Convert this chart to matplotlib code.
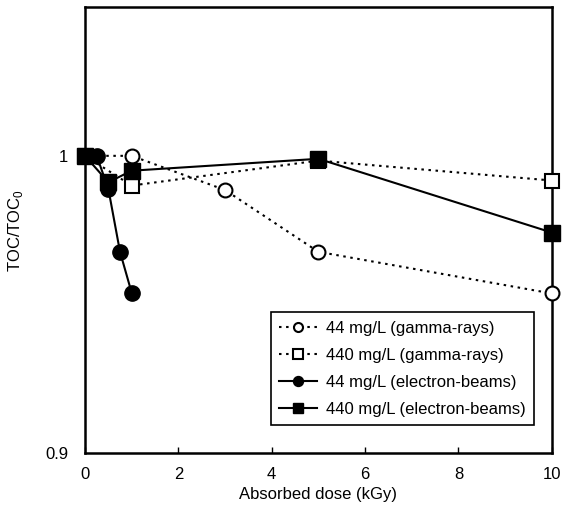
import matplotlib
matplotlib.use("Agg")
import matplotlib.pyplot as plt

plt.rcParams["font.family"] = ["Liberation Sans", "DejaVu Sans"]

# dose (kGy) and TOC/TOC0
dose_g44 = [0, 1, 3, 5, 10]
toc_g44 = [1.0, 1.0, 0.9885, 0.9677, 0.9537]

dose_g440 = [0, 1, 5, 10]
toc_g440 = [1.0, 0.990, 0.9984, 0.9917]

dose_e44 = [0, 0.25, 0.5, 0.75, 1]
toc_e44 = [1.0, 1.0, 0.9889, 0.9677, 0.9539]

dose_e440 = [0, 0.5, 1, 5, 10]
toc_e440 = [1.0, 0.9911, 0.995, 0.999, 0.9742]

labels = [
    "44 mg/L (gamma-rays)",
    "440 mg/L (gamma-rays)",
    "44 mg/L (electron-beams)",
    "440 mg/L (electron-beams)",
]

fig = plt.figure(figsize=(5.63, 5.16), dpi=100)
ax = fig.add_axes([0.151, 0.122, 0.829, 0.864])

dotted = dict(color="black", linestyle=(0, (1.2, 2.2)), linewidth=1.5,
              markersize=10, markeredgewidth=1.5, markerfacecolor="white",
              clip_on=False)
solid = dict(color="black", linestyle="-", linewidth=1.5,
             markersize=11, clip_on=False)

ax.plot(dose_g44, toc_g44, marker="o", label=labels[0], zorder=3, **dotted)
ax.plot(dose_g440, toc_g440, marker="s", label=labels[1], zorder=3, **dotted)
ax.plot(dose_e44, toc_e44, marker="o", label=labels[2], zorder=4, **solid)
ax.plot(dose_e440, toc_e440, marker="s", label=labels[3], zorder=4, **solid)

ax.set_xlim(0, 10)
ax.set_ylim(0.9, 1.05)
ax.set_xticks([0, 2, 4, 6, 8, 10])
ax.set_yticks([0.9, 1.0])
ax.set_yticklabels(["0.9", "1"])
ax.tick_params(direction="in", labelsize=12, length=4, width=1)
ax.tick_params(axis="x", pad=10)
ax.tick_params(axis="y", pad=12, length=0)
for s in ax.spines.values():
    s.set_linewidth(1.8)

ax.set_xlabel("Absorbed dose (kGy)", fontsize=12, labelpad=4)
ax.set_ylabel("TOC/TOC$_\\mathregular{0}$", fontsize=12)
ax.yaxis.set_label_coords(-0.128, 0.5)

leg = ax.legend(loc="upper left", bbox_to_anchor=(0.398, 0.316),
                borderaxespad=0, fontsize=12, markerscale=0.65,
                handlelength=2.3, handletextpad=0.5, labelspacing=0.72,
                fancybox=False, framealpha=1, edgecolor="black",
                borderpad=0.5)
leg.get_frame().set_linewidth(1.2)

fig.savefig("out.png", dpi=100)
